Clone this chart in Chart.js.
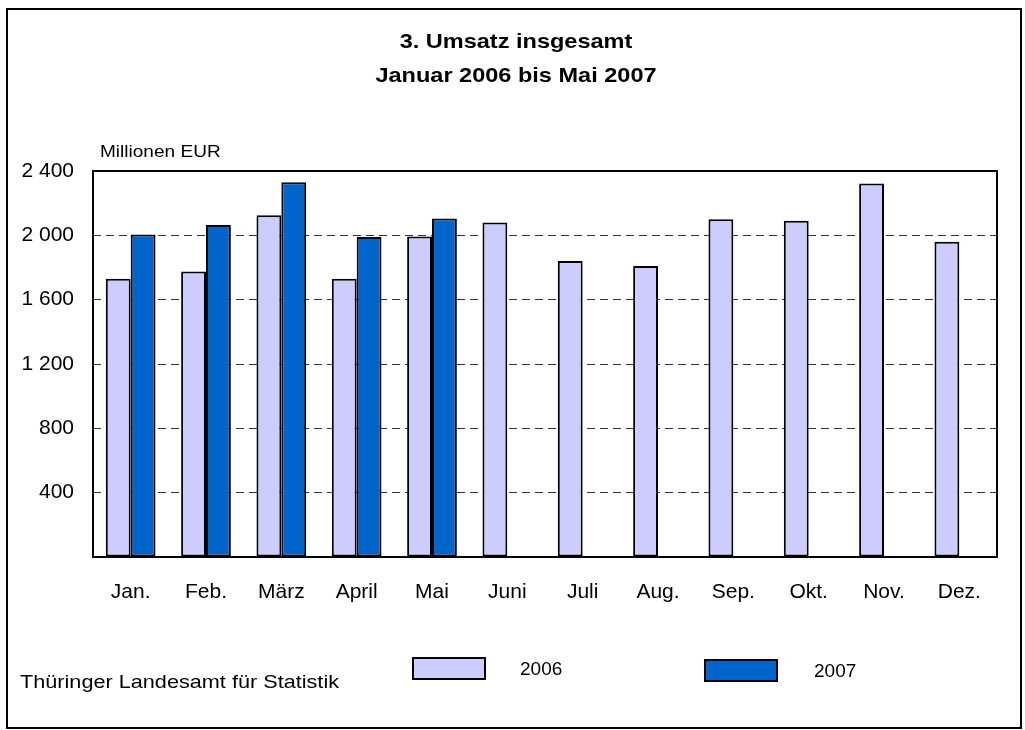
<!DOCTYPE html>
<html>
<head>
<meta charset="utf-8">
<script src="https://cdn.jsdelivr.net/npm/chart.js@4.4.1/dist/chart.umd.min.js"></script>
<style>
    html, body { margin: 0; padding: 0; background: #fff; }
    #wrap { width: 1025px; height: 730px; position: relative; }
</style>
</head>
<body>
<div id="wrap"><canvas id="umsatzChart"></canvas></div>
<script>
// Umsatz insgesamt - Januar 2006 bis Mai 2007

const months = ['Jan.', 'Feb.', 'März', 'April', 'Mai', 'Juni', 'Juli', 'Aug.', 'Sep.', 'Okt.', 'Nov.', 'Dez.'];
const umsatz2006 = [1730, 1775, 2125, 1730, 1993, 2080, 1840, 1810, 2100, 2090, 2323, 1960];
const umsatz2007 = [2005, 2065, 2330, 1990, 2105, null, null, null, null, null, null, null];
const yTicks = [0, 400, 800, 1200, 1600, 2000, 2400];

const titleLines = ['3. Umsatz insgesamt', 'Januar 2006 bis Mai 2007'];
const unitLabel = 'Millionen EUR';
const sourceLabel = 'Thüringer Landesamt für Statistik';

const colors = { y2006: '#ccccff', y2007: '#0066cc', edge: '#000000', grid: '#333333' };
const FONT = '"Liberation Sans", Arial, sans-serif';

const fmt = v => String(v).replace(/\B(?=(\d{3})+(?!\d))/g, ' ');

// the original lettering is a bit wider than Arial, so stretch it slightly
function stretchedText(ctx, text, x, y, align, sx) {
    const w = ctx.measureText(text).width * sx;
    let left = x;
    if (align === 'center') left = x - w / 2;
    ctx.save();
    ctx.textAlign = 'left';
    ctx.translate(left, y);
    ctx.scale(sx, 1);
    ctx.fillText(text, 0, 0);
    ctx.restore();
}

// frame, titles, plot border and legend
const decorPlugin = {
    id: 'decor',
    afterDraw(chart) {
        const ctx = chart.ctx;
        const a = chart.chartArea;
        ctx.save();

        // plot border
        ctx.strokeStyle = '#000';
        ctx.lineWidth = 2;
        ctx.strokeRect(a.left, a.top, a.right - a.left, a.bottom - a.top);

        // outer frame
        ctx.strokeRect(7, 9, 1014, 719);

        ctx.fillStyle = '#000';
        ctx.textBaseline = 'middle';

        ctx.font = 'bold 21px ' + FONT;
        stretchedText(ctx, titleLines[0], 516, 42, 'center', 1.12);
        stretchedText(ctx, titleLines[1], 516, 76, 'center', 1.12);

        ctx.font = '17px ' + FONT;
        stretchedText(ctx, unitLabel, 100, 152, 'left', 1.12);

        ctx.font = '19px ' + FONT;
        stretchedText(ctx, sourceLabel, 20, 683, 'left', 1.14);

        // legend
        const items = [
            { label: '2006', color: colors.y2006, x: 413, y: 658, tx: 520 },
            { label: '2007', color: colors.y2007, x: 705, y: 660, tx: 814 }
        ];
        ctx.font = '19px ' + FONT;
        items.forEach(it => {
            ctx.fillStyle = it.color;
            ctx.fillRect(it.x, it.y, 72, 21);
            ctx.strokeStyle = '#000';
            ctx.lineWidth = 2;
            ctx.strokeRect(it.x, it.y, 72, 21);
            ctx.fillStyle = '#000';
            ctx.fillText(it.label, it.tx, it.y + 12);
        });

        ctx.restore();
    }
};

const ctx = document.getElementById('umsatzChart').getContext('2d');
const chart = new Chart(ctx, {
    type: 'bar',
    data: {
        labels: months,
        datasets: [
            {
                label: '2006',
                data: umsatz2006,
                backgroundColor: colors.y2006,
                borderColor: colors.edge,
                borderWidth: 2,
                borderSkipped: false,
                categoryPercentage: 0.66,
                barPercentage: 1.0
            },
            {
                label: '2007',
                data: umsatz2007,
                backgroundColor: colors.y2007,
                borderColor: colors.edge,
                borderWidth: 2,
                borderSkipped: false,
                categoryPercentage: 0.66,
                barPercentage: 1.0
            }
        ]
    },
    options: {
        responsive: true,
        maintainAspectRatio: false,
        animation: false,
        events: [],
        layout: { padding: { left: 0, right: 28, top: 171, bottom: 0 } },
        scales: {
            x: {
                grid: { display: false, drawTicks: false },
                border: { display: false },
                ticks: {
                    color: '#000',
                    font: { family: FONT, size: 21 },
                    padding: 23,
                    maxRotation: 0,
                    autoSkip: false
                },
                afterFit: scale => { scale.height = 173; }
            },
            y: {
                min: 0,
                max: 2400,
                afterBuildTicks: scale => { scale.ticks = yTicks.map(v => ({ value: v })); },
                grid: {
                    drawTicks: false,
                    color: c => (c.tick.value === 0 || c.tick.value === 2400) ? 'rgba(0,0,0,0)' : colors.grid,
                    lineWidth: 1
                },
                border: { display: false, dash: [8, 5] },
                ticks: {
                    color: '#000',
                    font: { family: FONT, size: 21 },
                    padding: 19,
                    callback: v => v === 0 ? '' : fmt(v)
                },
                afterFit: scale => { scale.width = 93; }
            }
        },
        plugins: {
            legend: { display: false },
            title: { display: false },
            tooltip: { enabled: false }
        }
    },
    plugins: [decorPlugin]
});
</script>
</body>
</html>
